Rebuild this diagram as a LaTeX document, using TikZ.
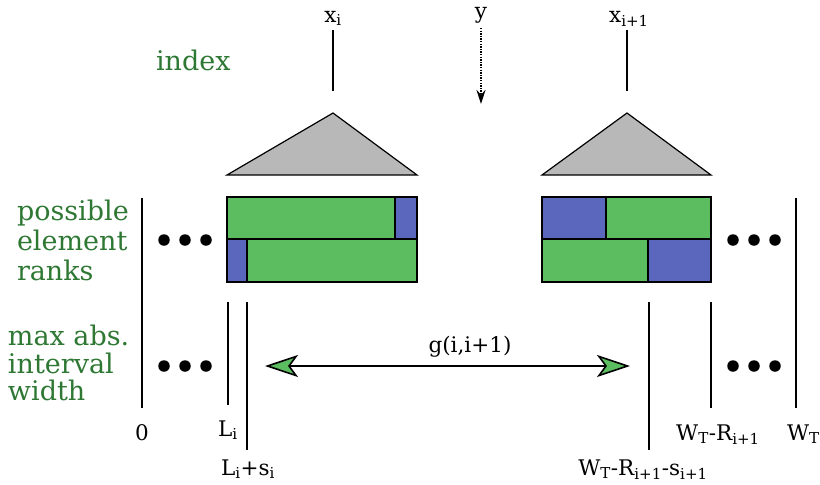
\documentclass[tikz,border=0pt]{standalone}
\usepackage{fontspec}
\setmainfont{DejaVu Serif}
\usetikzlibrary{arrows.meta}
\definecolor{lbl}{RGB}{46,120,52}
\definecolor{rkgreen}{RGB}{92,189,96}
\definecolor{rkblue}{RGB}{91,103,189}
\definecolor{tri}{RGB}{184,184,184}
\begin{document}
\begin{tikzpicture}[x=1pt,y=-1pt,
  every node/.style={inner sep=0pt,outer sep=0pt},
  side/.style={text=lbl,font=\fontsize{27}{30}\selectfont,anchor=base west},
  lab/.style={font=\fontsize{21.5}{24}\selectfont},
  bar/.style={line width=1.6pt},
  cell/.style={draw=black,line width=1.6pt},
  gcell/.style={cell,fill=rkgreen},
  bcell/.style={cell,fill=rkblue},
  roof/.style={draw=black,line width=1.2pt,fill=tri},
  dot/.style={circle,fill=black,minimum size=11.5pt},
  gap/.style={line width=1.6pt,>={Stealth[length=33pt,width=22pt,inset=8pt,fill=rkgreen]},<->}]
\useasboundingbox (0,0) rectangle (820,485);

% key labels
\node[side] (ix) at (156,70) {index};
\node[side] (pr1) at (17,220) {possible};
\node[side] (pr2) at (17,250) {element};
\node[side] (pr3) at (17,280) {ranks};
\node[side] (mw1) at (8,345) {max abs.};
\node[side] (mw2) at (8,373) {interval};
\node[side] (mw3) at (8,400) {width};

% keys above the nodes
\node[lab,anchor=base] (xi) at (333,22) {x\textsubscript{i}};
\node[lab,anchor=base] (yy) at (481,18) {y};
\node[lab,anchor=base] (xj) at (629,22) {x\textsubscript{i+1}};
\coordinate (xitop) at (333,30);
\coordinate (xibot) at (333,91);
\coordinate (xjtop) at (627,30);
\coordinate (xjbot) at (627,91);
\coordinate (ytop) at (481,28);
\coordinate (ybot) at (481,104);
\draw[bar] (xitop) -- (xibot);
\draw[bar] (xjtop) -- (xjbot);
\draw[line width=1.4pt,dash pattern=on 1.3pt off 1.3pt,-{Stealth[length=14pt,width=9pt]}] (ytop) -- (ybot);

% roofs
\draw[roof] (333,113) -- (417,175) -- (227,175) -- cycle;
\draw[roof] (627,113) -- (711,175) -- (542,175) -- cycle;

% rank cells, left node
\draw[gcell] (227,197) rectangle (395,239);
\draw[bcell] (395,197) rectangle (417,239);
\draw[bcell] (227,239) rectangle (247,282);
\draw[gcell] (247,239) rectangle (417,282);
% rank cells, right node
\draw[bcell] (542,197) rectangle (606,239);
\draw[gcell] (606,197) rectangle (711,239);
\draw[gcell] (542,239) rectangle (648,282);
\draw[bcell] (648,239) rectangle (711,282);

% ellipses
\foreach \x in {164,185,206,733,754,775} {
  \node[dot] at (\x,240) {};
  \node[dot] at (\x,366) {};
}

% interval bounds
\draw[bar] (142,198) -- (142,408);
\draw[bar] (796,198) -- (796,408);
\draw[bar] (228,302) -- (228,405);
\draw[bar] (247,302) -- (247,450);
\draw[bar] (649,302) -- (649,450);
\draw[bar] (711,302) -- (711,408);

\node[lab,anchor=base] (z) at (142,440) {0};
\node[lab,anchor=base] (li) at (228,436) {L\textsubscript{i}};
\node[lab,anchor=base] (ls) at (248,475) {L\textsubscript{i}+s\textsubscript{i}};
\node[lab,anchor=base] (wrs) at (643,475) {W\textsubscript{T}-R\textsubscript{i+1}-s\textsubscript{i+1}};
\node[lab,anchor=base] (wr) at (718,440) {W\textsubscript{T}-R\textsubscript{i+1}};
\node[lab,anchor=base west] (wt) at (787,440) {W\textsubscript{T}};

% gap between neighbours
\coordinate (ga) at (265,366);
\coordinate (gb) at (630,366);
\draw[gap] (ga) -- (gb);
\node[lab,anchor=base] (g) at (470,352) {g(i,i+1)};
\end{tikzpicture}
\end{document}
